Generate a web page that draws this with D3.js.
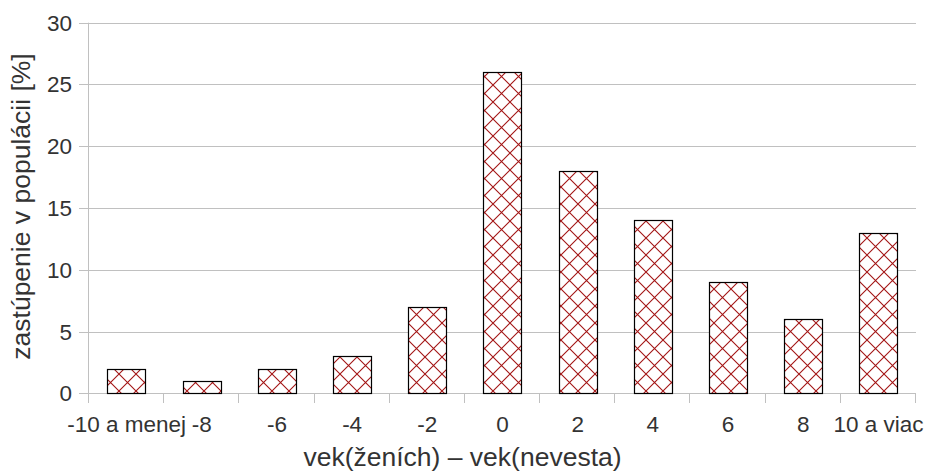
<!DOCTYPE html>
<html><head><meta charset="utf-8">
<script src="https://cdn.jsdelivr.net/npm/d3@7"></script>
<style>body{margin:0;background:#fff}text{font-family:"Liberation Sans",Arial,sans-serif;fill:#333}</style>
</head><body>
<svg id="c" width="927" height="472"></svg>
<script>
const categories = ["-10 a menej","-8","-6","-4","-2","0","2","4","6","8","10 a viac"];
const values = [2,1,2,3,7,26,18,14,9,6,13];
const yTicks = [0,5,10,15,20,25,30];
const xTitle = "vek(ženích) – vek(nevesta)";
const yTitle = "zastúpenie v populácii [%]";

const svg = d3.select("#c");
const m = {l:89, r:916, t:22.7, b:393.3};
const x = d3.scaleBand().domain(categories).range([m.l, m.r]).paddingInner(0.49).paddingOuter(0.245);
const xb = d3.scaleBand().domain(categories).range([m.l, m.r]);
const y = d3.scaleLinear().domain([0,30]).range([m.b, m.t]);

const defs = svg.append("defs");
const pat = defs.append("pattern").attr("id","hatch").attr("patternUnits","userSpaceOnUse")
  .attr("width",17).attr("height",17).attr("x",0).attr("y",0);
pat.append("rect").attr("width",17).attr("height",17).attr("fill","#fff");
pat.append("path").attr("d","M0,0L17,17M0,17L17,0M-1,1L1,-1M16,18L18,16M-1,16L1,18M16,-1L18,1")
  .attr("stroke","#a31515").attr("stroke-width",1.1).attr("fill","none");

// grid lines
svg.append("g").selectAll("line").data(yTicks).join("line")
  .attr("x1",79).attr("x2",m.r).attr("y1",d=>Math.round(y(d))+0.5).attr("y2",d=>Math.round(y(d))+0.5)
  .attr("stroke","#c0c0c0").attr("stroke-width",1);
// left axis line
svg.append("line").attr("x1",m.l-0.5).attr("x2",m.l-0.5).attr("y1",m.t).attr("y2",m.b)
  .attr("stroke","#c0c0c0");
// x tick marks
const bounds = categories.map(c=>xb(c)).concat([m.r]);
svg.append("g").selectAll("line").data(bounds).join("line")
  .attr("x1",d=>Math.round(d)-0.5).attr("x2",d=>Math.round(d)-0.5).attr("y1",m.b).attr("y2",403)
  .attr("stroke","#c0c0c0");

// bars
svg.append("g").selectAll("rect").data(values).join("rect")
  .attr("x",(d,i)=>Math.round(x(categories[i]))+0.5)
  .attr("y",d=>Math.round(y(d))+0.5)
  .attr("width",Math.round(x.bandwidth()))
  .attr("height",d=>Math.round(y(0))-Math.round(y(d)))
  .attr("fill","url(#hatch)").attr("stroke","#000").attr("stroke-width",1.2);

// y tick labels
svg.append("g").selectAll("text").data(yTicks).join("text")
  .attr("x",72).attr("y",d=>y(d)+8).attr("text-anchor","end").attr("font-size",22.5).text(d=>d);
// x tick labels
svg.append("g").selectAll("text").data(categories).join("text")
  .attr("x",d=>xb(d)+xb.bandwidth()/2).attr("y",431.5).attr("text-anchor","middle").attr("font-size",22.5).text(d=>d);

svg.append("text").attr("x",462.5).attr("y",466).attr("text-anchor","middle").attr("font-size",26.5).text(xTitle);
svg.append("text").attr("transform","translate(29.5,206.5) rotate(-90)").attr("text-anchor","middle").attr("font-size",26.5).text(yTitle);
</script>
</body></html>
